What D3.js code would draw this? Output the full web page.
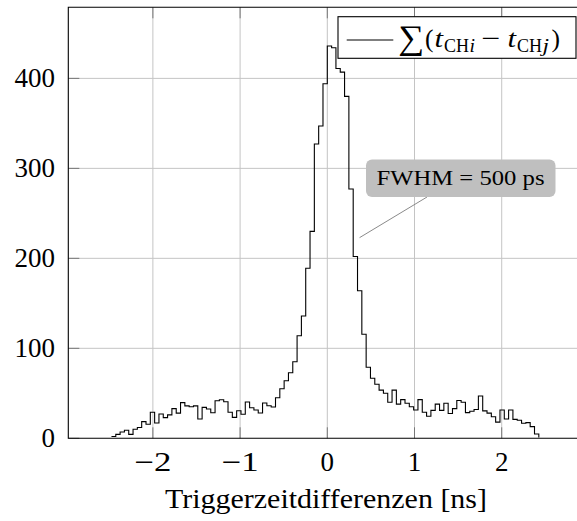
<!DOCTYPE html>
<html><head><meta charset="utf-8">
<script src="https://cdn.jsdelivr.net/npm/d3@7"></script>
<style>
html,body{margin:0;padding:0;background:#fff;}
svg{display:block;}
</style></head>
<body><svg id="c" width="577" height="521"></svg>
<script>
// ---- data ----
const binWidth = 0.0495;          // ns
const firstBinIndex = -50;        // first bin left edge = firstBinIndex*binWidth
const counts = [
  2, 4.4, 7, 9, 4.4, 10, 12, 18.5, 15.6, 29,
  17, 27, 23, 26, 33, 28, 39.6, 36, 35, 36,
  21.5, 34.4, 32.6, 28.4, 41.8, 42.9, 40.7, 28.9, 23.3, 30.7,
  26.7, 40.3, 34, 31.4, 28.1, 39.2, 36.2, 34.8, 45.1, 55.1,
  64, 72.9, 85.1, 114, 136, 189, 230, 327, 347, 394,
  436, 434, 411, 407, 380, 277, 202, 164, 115.6, 79,
  66.7, 60, 53.5, 50, 40, 53.5, 38, 43, 39, 35,
  31.5, 43, 29, 24.5, 31, 38, 31, 39, 27.5, 33,
  42, 40, 28.5, 30, 32, 47, 30.5, 28, 24, 18,
  31.5, 21.5, 31.5, 21, 20, 16.7, 17.4, 13, 4.8, 1
];
const xTicks = [-2, -1, 0, 1, 2];
const yTicks = [0, 100, 200, 300, 400];
const xLabel = "Triggerzeitdifferenzen [ns]";
const annotationText = "FWHM = 500 ps";
const annotationPoint = [0.37, 223];

// ---- layout ----
const FONT = "'Liberation Serif', 'DejaVu Serif', serif";
const svg = d3.select("#c");
const x = d3.scaleLinear().domain([-2.97, 2.97]).range([68.3, 586.3]);
const y = d3.scaleLinear().domain([0, 479]).range([438.3, 7.3]);
const gridColor = "#c4c4c4";

// grid
svg.append("g").selectAll("line").data(xTicks).join("line")
  .attr("x1", d => x(d)).attr("x2", d => x(d))
  .attr("y1", y(0)).attr("y2", y(479))
  .attr("stroke", gridColor).attr("stroke-width", 1);
svg.append("g").selectAll("line").data(yTicks.filter(d => d > 0)).join("line")
  .attr("x1", x(-2.97)).attr("x2", x(2.97))
  .attr("y1", d => y(d)).attr("y2", d => y(d))
  .attr("stroke", gridColor).attr("stroke-width", 1);

// ticks (inside, mirrored)
const tl = 11;
const tg = svg.append("g").attr("stroke", "#777").attr("stroke-width", 1);
xTicks.forEach(d => {
  tg.append("line").attr("x1", x(d)).attr("x2", x(d)).attr("y1", y(0)).attr("y2", y(0) - tl);
  tg.append("line").attr("x1", x(d)).attr("x2", x(d)).attr("y1", y(479)).attr("y2", y(479) + tl);
});
yTicks.forEach(d => {
  tg.append("line").attr("x1", x(-2.97)).attr("x2", x(-2.97) + tl).attr("y1", y(d)).attr("y2", y(d));
});

// histogram step line
const pts = counts.map((c, i) => [(firstBinIndex + i) * binWidth, c]);
svg.append("path").datum(pts)
  .attr("d", d3.line().x(d => x(d[0])).y(d => y(d[1])).curve(d3.curveStepAfter))
  .attr("fill", "none").attr("stroke", "#000").attr("stroke-width", 1.1);

// frame
svg.append("path")
  .attr("d", `M${x(2.97)},${y(479)}H${x(-2.97)}V${y(0)}H${x(2.97)}`)
  .attr("fill", "none").attr("stroke", "#000").attr("stroke-width", 1.1);

// tick labels
svg.append("g").selectAll("text").data(xTicks).join("text")
  .attr("font-family", FONT)
  .attr("x", d => x(d)).attr("y", 471)
  .attr("text-anchor", "middle").attr("font-size", 27)
  .each(function(d) { if (d < 0) d3.select(this).attr("textLength", 37).attr("lengthAdjust", "spacingAndGlyphs"); })
  .text(d => d < 0 ? "\u2212" + Math.abs(d) : d);
svg.append("g").selectAll("text").data(yTicks).join("text")
  .attr("font-family", FONT)
  .attr("x", 55).attr("y", d => y(d) + 9)
  .attr("text-anchor", "end").attr("font-size", 27)
  .text(d => d);

// axis label
svg.append("text").attr("font-family", FONT).attr("x", 326).attr("y", 508)
  .attr("text-anchor", "middle").attr("font-size", 27)
  .attr("textLength", 322).attr("lengthAdjust", "spacingAndGlyphs")
  .text(xLabel);

// annotation
svg.append("line")
  .attr("x1", x(annotationPoint[0])).attr("y1", y(annotationPoint[1]))
  .attr("x2", 427).attr("y2", 197)
  .attr("stroke", "#8a8a8a").attr("stroke-width", 1);
svg.append("rect").attr("x", 366).attr("y", 159.5).attr("width", 189.5).attr("height", 37.5)
  .attr("rx", 6).attr("fill", "#bfbfbf");
svg.append("text").attr("font-family", FONT).attr("x", 460.5).attr("y", 185)
  .attr("text-anchor", "middle").attr("font-size", 20)
  .attr("textLength", 168).attr("lengthAdjust", "spacingAndGlyphs")
  .text(annotationText);

// legend
svg.append("rect").attr("x", 338).attr("y", 16.7).attr("width", 238).attr("height", 41.6)
  .attr("fill", "#fff").attr("stroke", "#000").attr("stroke-width", 1.1);
svg.append("line").attr("x1", 346.7).attr("x2", 393.3).attr("y1", 40).attr("y2", 40)
  .attr("stroke", "#000").attr("stroke-width", 1.1);
const base = 47;
const pieces = [
  {t: "\u2211", x: 398, w: 26, fs: 34, dy: 2},
  {t: "(", x: 425, w: 8.5, fs: 26, dy: 0},
  {t: "t", x: 434.5, w: 8.5, fs: 26, dy: 0, it: true},
  {t: "CH", x: 444, w: 25, fs: 18, dy: 5},
  {t: "i", x: 469.5, w: 5.5, fs: 18, dy: 5, it: true},
  {t: "\u2212", x: 481.5, w: 19, fs: 26, dy: 0},
  {t: "t", x: 507.5, w: 8.5, fs: 26, dy: 0, it: true},
  {t: "CH", x: 517, w: 25, fs: 18, dy: 5},
  {t: "j", x: 542.5, w: 6.5, fs: 18, dy: 5, it: true},
  {t: ")", x: 551.5, w: 8.5, fs: 26, dy: 0}
];
svg.append("g").selectAll("text").data(pieces).join("text")
  .attr("font-family", FONT)
  .attr("x", d => d.x).attr("y", d => base + d.dy)
  .attr("font-size", d => d.fs)
  .attr("font-style", d => d.it ? "italic" : "normal")
  .attr("textLength", d => d.w).attr("lengthAdjust", "spacingAndGlyphs")
  .text(d => d.t);
</script></body></html>
